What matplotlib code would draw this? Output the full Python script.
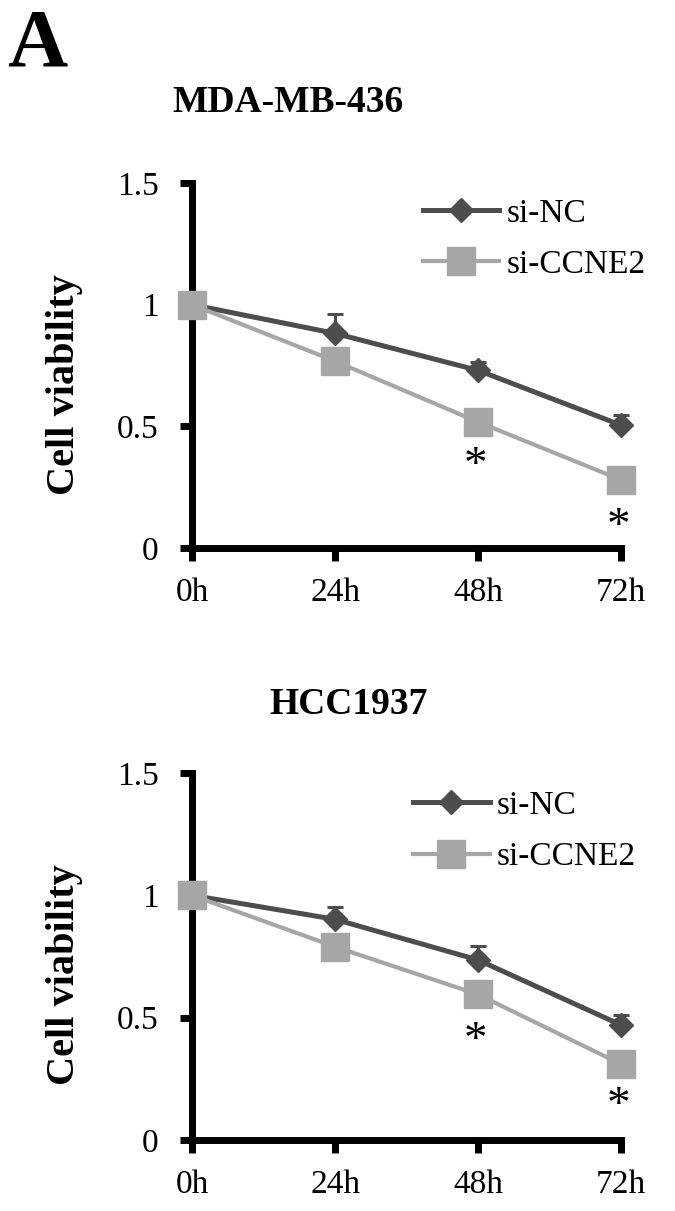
import matplotlib
matplotlib.use("Agg")
import matplotlib.pyplot as plt
import numpy as np

plt.rcParams['font.family'] = ['Liberation Serif', 'DejaVu Serif']

time_labels = ["0h", "24h", "48h", "72h"]
series_names = ["si-NC", "si-CCNE2"]

# MDA-MB-436
mda_nc = [1.00, 0.882, 0.730, 0.505]
mda_nc_err = [0.0, 0.080, 0.033, 0.040]
mda_ccne2 = [1.00, 0.768, 0.518, 0.280]
mda_star_y = [0.333, 0.082]

# HCC1937
hcc_nc = [1.00, 0.902, 0.736, 0.470]
hcc_nc_err = [0.0, 0.052, 0.055, 0.040]
hcc_ccne2 = [1.00, 0.790, 0.595, 0.310]
hcc_star_y = [0.40, 0.135]

star_idx = [2, 3]
yticks = [0, 0.5, 1, 1.5]
ytick_labels = ["0", "0.5", "1", "1.5"]

W, H = 675, 1211
fig = plt.figure(figsize=(W / 100, H / 100), dpi=100)

dark = "#4d4d4d"
light = "#a6a6a6"


def make_panel(rect, nc, nc_err, ccne2, star_y, title, title_xy, leg_anchor):
    ax = fig.add_axes(rect)
    x = np.arange(len(time_labels))
    ax.errorbar(x, nc, yerr=[np.zeros(len(nc)), nc_err], fmt='none',
                ecolor=dark, elinewidth=2.2, capsize=6, capthick=2.2,
                clip_on=False, zorder=2)
    ax.plot(x, nc, color=dark, lw=3.6, marker='D', ms=12,
            mfc=dark, mec=dark, clip_on=False, zorder=3, label=series_names[0])
    ax.plot(x, ccne2, color=light, lw=3.0, marker='s', ms=20,
            mfc=light, mec=light, clip_on=False, zorder=4, label=series_names[1])
    for i, yy in zip(star_idx, star_y):
        ax.text(x[i] - 0.02, yy, "*", ha='center', va='center', fontsize=34)
    ax.set_xlim(0, 3)
    ax.set_ylim(0, 1.5)
    ax.set_xticks(x)
    ax.set_xticklabels(time_labels, fontsize=24)
    ax.set_yticks(yticks)
    ax.set_yticklabels(ytick_labels, fontsize=24)
    for s in ['top', 'right']:
        ax.spines[s].set_visible(False)
    for s in ['left', 'bottom']:
        ax.spines[s].set_linewidth(5)
        ax.spines[s].set_color('black')
    ax.tick_params(axis='both', direction='out', length=9, width=5, color='black')
    ax.tick_params(axis='y', pad=15)
    ax.tick_params(axis='x', pad=12)
    ax.set_ylabel("Cell viability", fontsize=29, fontweight='bold', labelpad=18)
    ax.legend(loc='upper left', bbox_to_anchor=leg_anchor, frameon=False,
              fontsize=24, handlelength=2.3, handletextpad=0.2,
              labelspacing=0.62, borderpad=0, borderaxespad=0)
    fig.text(title_xy[0] / W, 1 - title_xy[1] / H, title, ha='center', va='center',
             fontsize=27, fontweight='bold')
    return ax


ax1 = make_panel([192 / W, 1 - 548 / H, 429 / W, 365 / H], mda_nc, mda_nc_err,
                 mda_ccne2, mda_star_y, "MDA-MB-436", (288, 102), (0.538, 0.958))
ax2 = make_panel([192 / W, 1 - 1140 / H, 429 / W, 367 / H], hcc_nc, hcc_nc_err,
                 hcc_ccne2, hcc_star_y, "HCC1937", (349, 705), (0.515, 0.952))
for ax, cy in [(ax1, 385), (ax2, 975)]:
    ax.yaxis.set_label_coords(83 / W, 1 - cy / H, transform=fig.transFigure)

fig.text(37 / W, 1 - 46 / H, "A", ha='center', va='center', fontsize=60,
         fontweight='bold')

fig.savefig("out.png", dpi=100)
